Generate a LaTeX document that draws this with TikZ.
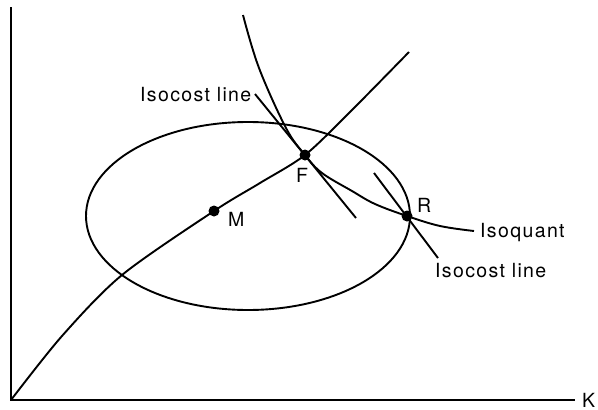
\documentclass[tikz,border=0pt]{standalone}
\usepackage{fontspec}
\usetikzlibrary{shapes.geometric}
\setmainfont[LetterSpace=7]{TeX Gyre Heros}
\begin{document}
\begin{tikzpicture}[x=1pt,y=-1pt,
  curve/.style={line width=1.9pt,line join=round},
  axis/.style={line width=2.1pt},
  dot/.style={circle,fill=black,inner sep=0pt,minimum size=11pt},
  lbl/.style={inner sep=0pt,anchor=base west,font=\fontsize{19.5}{20}\selectfont}]
\useasboundingbox (0,0) rectangle (598,410);
% axes
\coordinate (O) at (11,400);
\coordinate (Ytop) at (11,7);
\coordinate (Xend) at (575,400);
\draw[axis] (Ytop) -- (O) -- (Xend);
\node[lbl] (K) at (582,407) {K};
% ellipse
\node[draw,ellipse,line width=1.9pt,minimum width=324pt,minimum height=188pt,inner sep=0pt] (E) at (248,216) {};
% expansion path
\coordinate (M) at (214,211);
\coordinate (F) at (305,155);
\coordinate (R) at (407,216);
\coordinate (P1) at (62,336);
\coordinate (P2) at (122,275);
\coordinate (P3) at (260,183);
\coordinate (P4) at (350,112);
\coordinate (Pend) at (409,52);
\draw[curve] plot[smooth,tension=0.5] coordinates {(O) (P1) (P2) (M) (P3) (F) (P4) (Pend)};
% isoquant
\coordinate (Q0) at (243,15);
\coordinate (Q1) at (259,68);
\coordinate (Q2) at (286,128);
\coordinate (Q3) at (322,173);
\coordinate (Q4) at (352,191);
\coordinate (Q5) at (375,204);
\coordinate (Q6) at (440,226);
\coordinate (Qend) at (474,231);
\draw[curve] plot[smooth,tension=0.6] coordinates {(Q0) (Q1) (Q2) (F) (Q3) (Q4) (Q5) (R) (Q6) (Qend)};
% isocost lines
\coordinate (C1a) at (255,94);
\coordinate (C1b) at (356,218);
\draw[curve] (C1a) -- (C1b);
\coordinate (C2a) at (374,173);
\coordinate (C2b) at (438,258);
\draw[curve] (C2a) -- (C2b);
% dots
\node[dot] (Md) at (M) {};
\node[dot] (Fd) at (F) {};
\node[dot] (Rd) at (R) {};
% labels
\node[lbl] (Ml) at (228,226) {M};
\node[lbl] (Fl) at (296,182) {F};
\node[lbl] (Rl) at (417,212) {R};
\node[lbl] (L1) at (140,101) {Isocost line};
\node[lbl] (L2) at (480,237) {Isoquant};
\node[lbl] (L3) at (435,277) {Isocost line};
\end{tikzpicture}
\end{document}
